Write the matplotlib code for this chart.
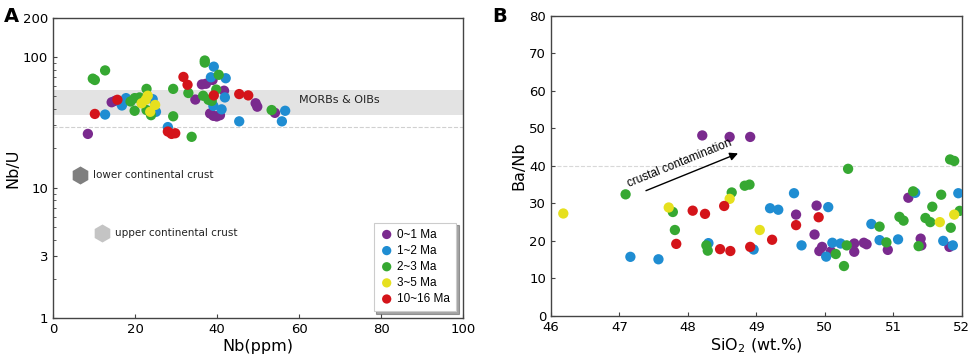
import numpy as np
import matplotlib
matplotlib.use("Agg")
import matplotlib.pyplot as plt
from matplotlib.ticker import FixedLocator, NullFormatter, LogLocator

# ---- data ----
labels = ["0~1 Ma", "1~2 Ma", "2~3 Ma", "3~5 Ma", "10~16 Ma"]
colors = ["#7a2a8e", "#1f8dd2", "#36a832", "#e6e01e", "#d4141a"]

# panel A: Nb (ppm), Nb/U
a_nb = [
    [8.5, 14.3, 15.1, 34.7, 36.3, 37.3, 38.9, 41.7, 38.3, 39.1, 39.9, 40.7, 49.4, 49.8, 54.1],
    [12.7, 16.8, 17.8, 24.3, 25.1, 28.0, 39.2, 38.5, 42.1, 41.9, 39.1, 41.1, 45.4, 56.6, 55.8],
    [9.7, 10.2, 12.7, 18.9, 19.9, 19.9, 21.1, 22.8, 22.8, 23.9, 29.3, 29.3, 33.8, 33.0, 37.0,
     37.0, 40.4, 36.6, 37.9, 38.7, 39.8, 53.3],
    [23.1, 22.6, 21.6, 24.9, 23.7],
    [10.2, 15.7, 28.0, 28.9, 29.8, 31.8, 32.8, 39.2, 45.4, 47.6],
]
a_ratio = [
    [25.8, 45.1, 46.2, 47.3, 61.8, 62.5, 66.8, 55.3, 37.0, 35.5, 35.1, 35.9, 44.3, 41.7, 37.4],
    [36.3, 42.6, 48.5, 47.6, 38.1, 29.1, 84.5, 70.1, 68.9, 49.1, 42.3, 39.8, 32.2, 38.8, 32.2],
    [68.4, 66.8, 79.1, 45.7, 48.5, 38.8, 49.1, 57.1, 39.3, 35.9, 57.1, 35.2, 24.5, 53.1, 94.2,
     90.8, 73.2, 50.6, 47.1, 46.2, 56.4, 39.3],
    [50.6, 47.1, 44.3, 43.0, 38.1],
    [36.7, 47.1, 26.9, 25.8, 26.1, 70.5, 61.4, 50.9, 52.1, 50.9],
]

# panel B: SiO2 (wt.%), Ba/Nb
b_si = [
    [48.21, 48.61, 48.91, 49.58, 49.85, 49.88, 49.92, 49.96, 50.09, 50.43, 50.43, 50.57, 50.61,
     50.92, 51.22, 51.40, 51.41, 51.82],
    [47.16, 47.57, 48.30, 48.96, 49.20, 49.32, 49.55, 49.66, 50.05, 50.02, 50.11, 50.23, 50.68,
     50.80, 51.07, 51.32, 51.73, 51.87, 51.95],
    [47.09, 47.78, 47.81, 48.27, 48.29, 48.64, 48.83, 48.90, 50.16, 50.32, 50.28, 50.34, 50.80,
     50.90, 51.09, 51.15, 51.29, 51.37, 51.47, 51.54, 51.57, 51.70, 51.84, 51.83, 51.89, 51.97],
    [46.18, 47.72, 48.61, 49.05, 51.68, 51.89],
    [47.83, 48.07, 48.25, 48.47, 48.62, 48.53, 48.91, 49.23, 49.58, 49.91],
]
b_ratio = [
    [48.1, 47.7, 47.7, 27.0, 21.7, 29.4, 17.3, 18.4, 17.2, 19.3, 17.1, 19.5, 19.1, 17.6, 31.5,
     20.6, 18.8, 18.4],
    [15.75, 15.1, 19.4, 17.7, 28.7, 28.3, 32.7, 18.8, 29.0, 15.8, 19.5, 19.3, 24.5, 20.2, 20.4,
     32.8, 20.0, 18.8, 32.7],
    [32.4, 27.7, 22.9, 18.8, 17.4, 32.9, 34.7, 35.0, 16.5, 18.8, 13.3, 39.2, 23.8, 19.6, 26.4,
     25.4, 33.2, 18.6, 26.1, 25.0, 29.1, 32.3, 23.5, 41.7, 41.3, 28.0],
    [27.3, 28.9, 31.2, 22.9, 25.0, 27.0],
    [19.2, 28.05, 27.2, 17.8, 17.3, 29.3, 18.4, 20.3, 24.2, 26.3],
]

# reference values
crust_nb = [6.6, 11.9]
crust_ratio = [12.6, 4.45]
crust_names = ["lower continental crust", "upper continental crust"]
crust_colors = ["#7f7f7f", "#c4c4c4"]
morb_band = (36, 56)

fig = plt.figure(figsize=(9.69, 3.57), dpi=100)
ax1 = fig.add_axes([0.0547, 0.109, 0.4233, 0.841])
ax2 = fig.add_axes([0.5686, 0.115, 0.4239, 0.841])

spine_col = "#444444"
for ax in (ax1, ax2):
    for s in ax.spines.values():
        s.set_color(spine_col)
        s.set_linewidth(1.0)
    ax.tick_params(direction="in", labelsize=9.5, color=spine_col, length=3)
    ax.tick_params(which="minor", direction="in", color=spine_col, length=2)

# ---- panel A ----
ax1.axhspan(*morb_band, color="#e3e3e3", lw=0, zorder=0)
ax1.axhline(29, color="#d0d0d0", ls="--", lw=0.8, zorder=0)
for nb, r, c, lab in zip(a_nb, a_ratio, colors, labels):
    ax1.scatter(nb, r, s=55, color=c, edgecolors="none", label=lab, zorder=3)
for x, y, name, c in zip(crust_nb, crust_ratio, crust_names, crust_colors):
    ax1.plot(x, y, marker="h", ms=13, color=c, mec="none", zorder=3)
    ax1.text(x + 3.2, y, name, fontsize=7.5, va="center", ha="left", color="#222222")
ax1.text(60, 47, "MORBs & OIBs", fontsize=8, va="center", ha="left", color="#222222")

ax1.set_yscale("log")
ax1.set_xlim(0, 100)
ax1.set_ylim(1, 200)
ax1.yaxis.set_major_locator(FixedLocator([1, 3, 10, 100, 200]))
ax1.set_yticklabels(["1", "3", "10", "100", "200"])
ax1.yaxis.set_minor_locator(LogLocator(base=10, subs=np.arange(2, 10)))
ax1.yaxis.set_minor_formatter(NullFormatter())
ax1.set_xticks([0, 20, 40, 60, 80, 100])
ax1.set_xlabel("Nb(ppm)", fontsize=11.5, labelpad=2)
ax1.set_ylabel("Nb/U", fontsize=11.5, labelpad=2)

leg = ax1.legend(loc="lower right", frameon=True, shadow=True, fancybox=False,
                 prop={"family": "Liberation Sans", "size": 8.5}, handletextpad=0.3,
                 borderpad=0.5, labelspacing=0.35, handlelength=1.2,
                 borderaxespad=0.6, markerscale=0.9)
leg.get_frame().set_edgecolor("#cccccc")
leg.get_frame().set_linewidth(0.8)

# ---- panel B ----
ax2.axhline(40, color="#d8d8d8", ls="--", lw=0.8, zorder=0)
for si, r, c in zip(b_si, b_ratio, colors):
    ax2.scatter(si, r, s=55, color=c, edgecolors="none", zorder=3)
ax2.annotate("", xy=(48.77, 43.6), xytext=(47.35, 33.1),
             arrowprops=dict(arrowstyle="-|>", color="black", lw=1.0, mutation_scale=12))
ax2.text(47.15, 33.6, "crustal contamination", rotation=22, rotation_mode="anchor",
         ha="left", va="bottom", fontsize=8.5, family="Liberation Sans")
ax2.set_xlim(46, 52)
ax2.set_ylim(0, 80)
ax2.set_xticks(range(46, 53))
ax2.set_yticks(range(0, 81, 10))
ax2.set_xlabel("SiO$_2$ (wt.%)", fontsize=11.5, labelpad=2)
ax2.set_ylabel("Ba/Nb", fontsize=11.5, labelpad=2)

fig.text(0.004, 0.955, "A", fontsize=14, fontweight="bold", va="center")
fig.text(0.508, 0.955, "B", fontsize=14, fontweight="bold", va="center")

fig.savefig("out.png", dpi=100)
